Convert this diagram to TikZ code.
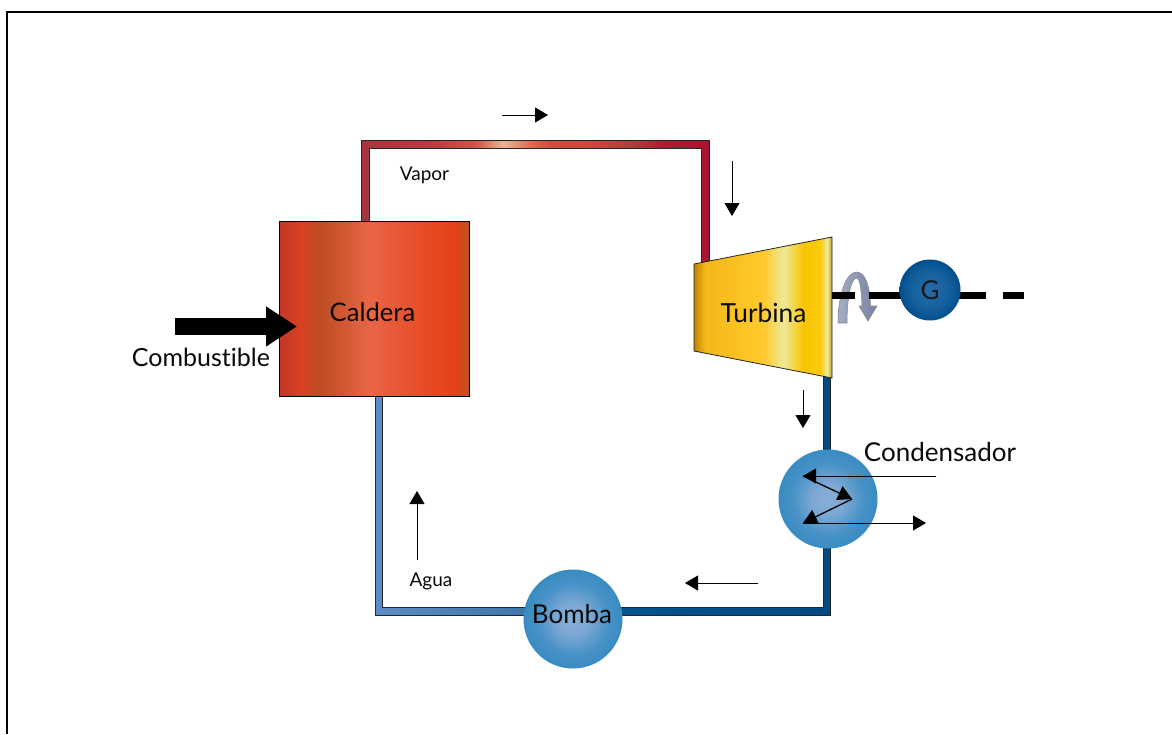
\documentclass[tikz,border=0pt]{standalone}
\usepackage{fontspec}
\setmainfont[Ligatures=NoCommon]{Lato}
\usetikzlibrary{arrows.meta}
\definecolor{txt}{HTML}{0A0A0A}
\definecolor{giroA}{HTML}{A3ACC6}
\definecolor{giroB}{HTML}{76829F}
\pgfdeclarehorizontalshading{calderashade}{100bp}{
 rgb(0bp)=(0.76,0.21,0.16); rgb(25bp)=(0.76,0.21,0.16); rgb(30.4bp)=(0.85,0.25,0.13);
 rgb(35.7bp)=(0.74,0.30,0.13); rgb(48.8bp)=(0.91,0.40,0.27); rgb(57.6bp)=(0.91,0.33,0.19);
 rgb(70.7bp)=(0.90,0.25,0.10); rgb(75bp)=(0.76,0.31,0.13); rgb(100bp)=(0.76,0.31,0.13)}
\pgfdeclarehorizontalshading{turbinashade}{100bp}{
 rgb(0bp)=(0.73,0.52,0.02); rgb(25bp)=(0.73,0.52,0.02); rgb(29bp)=(0.96,0.72,0.10);
 rgb(50.2bp)=(1,0.79,0.17); rgb(57.4bp)=(0.93,0.91,0.60); rgb(64.7bp)=(0.98,0.77,0);
 rgb(70.8bp)=(0.98,0.80,0.06); rgb(73.2bp)=(0.94,0.92,0.62); rgb(75bp)=(0.75,0.63,0.13); rgb(100bp)=(0.75,0.63,0.13)}
\pgfdeclarehorizontalshading{vaporshade}{100bp}{
 rgb(0bp)=(0.66,0.20,0.25); rgb(25bp)=(0.66,0.20,0.25); rgb(35.4bp)=(0.72,0.24,0.25);
 rgb(41.6bp)=(0.81,0.35,0.28); rgb(45.4bp)=(0.92,0.71,0.58); rgb(49.2bp)=(0.87,0.43,0.31);
 rgb(52bp)=(0.81,0.31,0.24); rgb(59.2bp)=(0.77,0.28,0.23); rgb(64bp)=(0.65,0.26,0.23);
 rgb(68.8bp)=(0.66,0.11,0.19); rgb(75bp)=(0.66,0.08,0.18); rgb(100bp)=(0.66,0.08,0.18)}
\pgfdeclarehorizontalshading{aguashade}{100bp}{
 rgb(0bp)=(0.36,0.55,0.78); rgb(25bp)=(0.36,0.55,0.78); rgb(41.3bp)=(0.25,0.46,0.68);
 rgb(52.2bp)=(0,0.33,0.56); rgb(75bp)=(0,0.29,0.52); rgb(100bp)=(0,0.29,0.52)}
\pgfdeclareradialshading{bolashade}{\pgfpoint{0bp}{0bp}}{
 rgb(0bp)=(0.53,0.68,0.84); rgb(8bp)=(0.49,0.66,0.83); rgb(18bp)=(0.28,0.57,0.78); rgb(25bp)=(0.22,0.55,0.76); rgb(50bp)=(0.22,0.55,0.76)}
\pgfdeclareradialshading{genshade}{\pgfpoint{0bp}{0bp}}{
 rgb(0bp)=(0.15,0.42,0.66); rgb(15bp)=(0.08,0.38,0.62); rgb(25bp)=(0,0.31,0.55); rgb(50bp)=(0,0.31,0.55)}
\tikzset{
 x=1pt,y=-1pt,
 pipe/.style={draw=black!85,line width=0.7pt},
 bola/.style={circle,shading=bolashade,minimum size=99pt,inner sep=0pt,outer sep=0pt},
 etiqueta/.style={font=\fontsize{26}{30}\selectfont,text=txt,inner sep=0pt},
 rotulo/.style={font=\fontsize{19}{23}\selectfont,text=txt,inner sep=0pt},
 flujo/.style={draw=black,line width=0.8pt,-{Triangle[length=13pt,width=15pt]}},
 serpentin/.style={draw=black,line width=1.3pt,-{Triangle[length=14pt,width=15pt]}},
 eje/.style={draw=black,line width=7pt},
}
\begin{document}
\begin{tikzpicture}
\useasboundingbox (0,0) rectangle (1172,734);
\fill[white] (0,0) rectangle (1172,734);
% frame
\draw[black,line width=2.6pt] (7,734) -- (7,12) -- (1172,12);
% pipes
\path[pipe,shading=vaporshade] (361.5,225) -- (361.5,140.5) -- (709,140.5) -- (709,265) -- (701.5,265)
  -- (701.5,148) -- (369,148) -- (369,225) -- cycle;
\path[pipe,shading=aguashade] (375,392) -- (375,615) -- (830.5,615) -- (830.5,374) -- (823,374)
  -- (823,607.5) -- (382.5,607.5) -- (382.5,392) -- cycle;
% caldera
\node[draw=black,line width=1pt,shading=calderashade,minimum width=190.5pt,minimum height=175pt,inner sep=0pt,outer sep=0pt] (caldera) at (374.3,308.5) {};
\node[etiqueta,font=\fontsize{25.6}{30}\selectfont] (calderatxt) at (372.5,312.5) {Caldera};
% turbine
\path[draw=black!85,line width=0.8pt,shading=turbinashade] (694,264) -- (832,237) -- (832,378) -- (694,351) -- cycle;
\node[etiqueta,font=\fontsize{26.3}{30}\selectfont] (turbinatxt) at (763.5,312.5) {Turbina};
% rotation arrow
\path[draw=black!45,line width=0.6pt,left color=giroA,right color=giroB]
  (838,323) .. controls (838,295) and (846,272) .. (856.5,272)
  .. controls (866,272) and (870,288) .. (870.5,306)
  -- (877,306) -- (868,321) -- (859,306) -- (862,306)
  .. controls (861.5,291) and (860,278) .. (856.5,278)
  .. controls (851,278) and (847,298) .. (847,323) -- cycle;
% shaft
\coordinate (s0) at (832,295.5);
\coordinate (s1) at (855,295.5);
\coordinate (s2) at (869,295.5);
\coordinate (s3) at (986,295.5);
\coordinate (s4) at (1003,295.5);
\coordinate (s5) at (1024,295.5);
\draw[eje] (s0) -- (s1);
\draw[eje] (s2) -- (s3);
\draw[eje] (s4) -- (s5);
\node[circle,shading=genshade,minimum size=61pt,inner sep=0pt,outer sep=0pt,font=\fontsize{26}{30}\selectfont,text=black!90] (gen) at (930,290) {G};
% fuel arrow
\coordinate (fuel0) at (175,326.5);
\coordinate (fuel1) at (297,326.5);
\draw[draw=black,line width=17pt,-{Triangle[length=31pt,width=38pt]}] (fuel0) -- (fuel1);
\node[etiqueta,font=\fontsize{25}{30}\selectfont] (combustible) at (201,357.5) {Combustible};
% spheres
\node[bola] (cond) at (828,499) {};
\node[bola] (bomba) at (573,619) {};
\node[etiqueta,font=\fontsize{26}{30}\selectfont] (bombatxt) at (572,614.5) {Bomba};
\node[etiqueta] (condtxt) at (940,452.5) {Condensador};
\node[rotulo] (vapor) at (424.5,175) {Vapor};
\node[rotulo] (agua) at (431,581) {Agua};
% flow arrows
\coordinate (a1) at (502,115); \coordinate (a2) at (548,115);
\coordinate (b1) at (732,161); \coordinate (b2) at (732,216);
\coordinate (c1) at (803,390); \coordinate (c2) at (803,428);
\coordinate (d1) at (758,583); \coordinate (d2) at (685,583);
\coordinate (e1) at (417,560); \coordinate (e2) at (417,491);
\draw[flujo] (a1) -- (a2);
\draw[flujo] (b1) -- (b2);
\draw[flujo] (c1) -- (c2);
\draw[flujo] (d1) -- (d2);
\draw[flujo] (e1) -- (e2);
% condenser coil
\coordinate (k0) at (936,476);
\coordinate (k1) at (803,476);
\coordinate (k2) at (852,499);
\coordinate (k3) at (803,523);
\coordinate (k4) at (926,523);
\draw[flujo] (k0) -- (k1);
\draw[serpentin] (k1) -- (k2);
\draw[serpentin] (k2) -- (k3);
\draw[flujo] (k3) -- (k4);
\end{tikzpicture}
\end{document}
